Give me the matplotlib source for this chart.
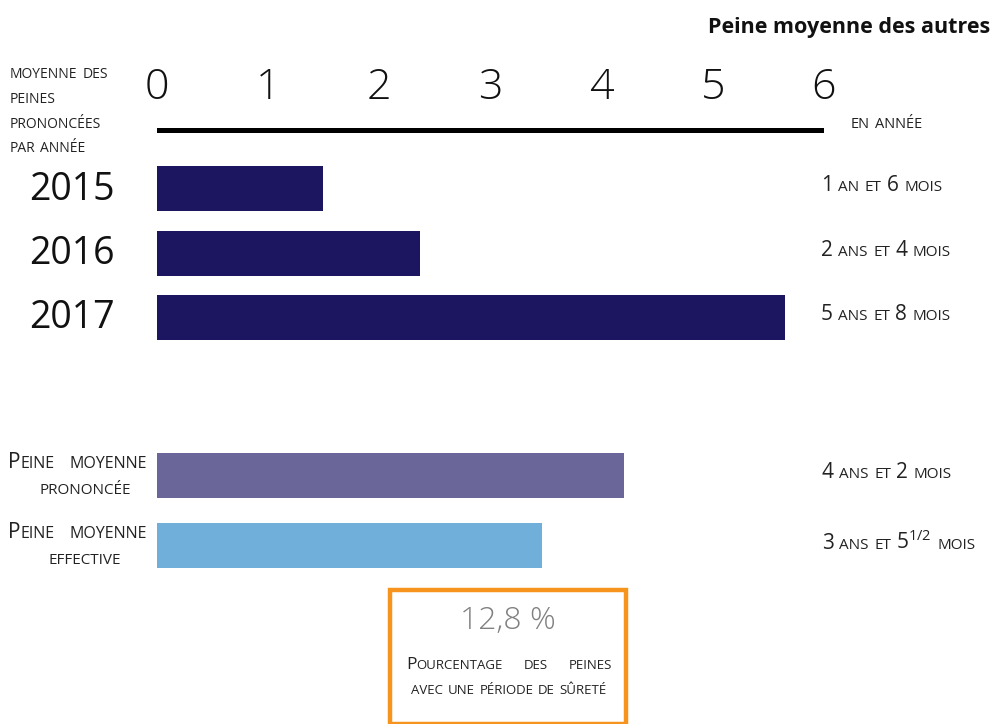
import matplotlib
matplotlib.use("Agg")
import matplotlib.pyplot as plt
from matplotlib.offsetbox import TextArea, HPacker, AnnotationBbox
from matplotlib.patches import Rectangle

W, H = 995, 724

plt.rcParams['font.family'] = ['Open Sans', 'DejaVu Sans']
plt.rcParams['mathtext.fontset'] = 'custom'
plt.rcParams['mathtext.rm'] = 'Open Sans'

# data (bar lengths)
years = ["2015", "2016", "2017"]
year_values = [1.49, 2.37, 5.65]
year_labels = ["1 an et 6 mois", "2 ans et  4 mois", "5 ans et 8 mois"]

avg_names = [("Peine moyenne", "prononcée"), ("Peine moyenne", "effective")]
avg_values = [4.2, 3.46]
avg_labels = ["4 ans et 2 mois", "3 ans et 5$^{1/2}$ mois"]

ticks = [0, 1, 2, 3, 4, 5, 6]
surete_pct = "12,8 %"

NAVY = "#1c1660"
PURPLE = "#6b6699"
LIGHTBLUE = "#6fafd9"
ORANGE = "#f7941d"

# layout (pixels from the top)
year_y = [188.5, 253, 317.5]
avg_y = [475.5, 545.5]
bar_h = 45


def _runs(word):
    # lowercase -> small caps, the rest keeps full size
    runs = []
    for ch in word:
        small = ch.islower()
        if runs and runs[-1][1] == small:
            runs[-1][0] += ch
        else:
            runs.append([ch, small])
    return runs


def smallcaps(fig, x, y, text, big, small, align=(0, 0.5), color="#222222",
              space=None):
    if space is None:
        space = small * 0.35
    words = []
    for word in text.split(" "):
        if word == "":
            continue
        if "$" in word:
            parts = [TextArea(word, textprops=dict(fontsize=big, color=color))]
        else:
            parts = [TextArea(s.upper() if sm else s,
                              textprops=dict(fontsize=small if sm else big,
                                             color=color))
                     for s, sm in _runs(word)]
        words.append(HPacker(children=parts, align="baseline", pad=0, sep=0))
    pack = HPacker(children=words, align="baseline", pad=0, sep=space)
    ab = AnnotationBbox(pack, (x, H - y), xycoords="figure pixels",
                        box_alignment=align, frameon=False, pad=0)
    fig.add_artist(ab)
    return ab


fig = plt.figure(figsize=(W / 100, H / 100), dpi=100)
ax = fig.add_axes([157 / W, 0, 667 / W, 1])
ax.set_xlim(0, 6)
ax.set_ylim(H, 0)
ax.axis("off")

ax.barh(year_y, year_values, height=bar_h, color=NAVY)
ax.barh(avg_y, avg_values, height=bar_h, color=[PURPLE, LIGHTBLUE])
ax.axhline(130, color="black", lw=3.6)

for t in ticks:
    ax.text(t, 88, str(t), ha="center", va="center", fontsize=31,
            fontweight="light", color="#111111")

for name, yy in zip(years, year_y):
    fig.text(115 / W, 1 - (yy + 1) / H, name, ha="right", va="center",
             fontsize=27, color="#111111")

fig.text(990 / W, 1 - 27 / H, "Peine moyenne des autres", ha="right",
         va="center", fontsize=15.5, fontweight="bold", color="#111111")

for i, line in enumerate(["moyenne des", "peines", "prononcées", "par année"]):
    smallcaps(fig, 10, 75 + 24.5 * i, line, 10, 10)

smallcaps(fig, 851, 124, "en année", 10.5, 10.5)

for lab, yy in zip(year_labels, year_y):
    smallcaps(fig, 821, yy - 3, lab, 15, 11)
for lab, yy in zip(avg_labels, avg_y):
    smallcaps(fig, 822, yy - 3, lab, 15, 11)

for (l1, l2), yy in zip(avg_names, avg_y):
    smallcaps(fig, 147, yy - 13, l1, 15, 11.5, align=(1, 0.5), space=11)
    smallcaps(fig, 85, yy + 15, l2, 11, 11, align=(0.5, 0.5))

fig.add_artist(Rectangle((390 / W, 0), 236 / W, (H - 590) / H,
                         transform=fig.transFigure, fill=False,
                         edgecolor=ORANGE, lw=3.2))
fig.text(508 / W, 1 - 621 / H, surete_pct, ha="center", va="center",
         fontsize=23, fontweight="light", color="#808080")
smallcaps(fig, 509, 665, "Pourcentage des peines", 12.5, 9.5, align=(0.5, 0.5),
          space=15)
smallcaps(fig, 509, 690, "avec une période de sûreté", 9.5, 9.5,
          align=(0.5, 0.5))

fig.savefig("out.png", dpi=100, facecolor="white")
